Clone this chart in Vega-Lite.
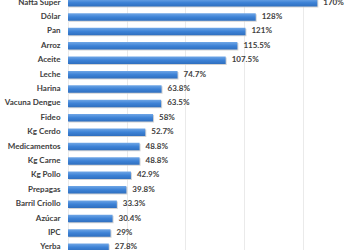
{
  "$schema": "https://vega.github.io/schema/vega-lite/v6.json",
  "autosize": "none",
  "width": 264,
  "height": 259,
  "padding": {"left": 68, "top": -4.5, "right": 18, "bottom": 0},
  "background": "white",
  "data": {"values": [
    {"item": "Nafta Super", "value": 170, "label": "170%"},
    {"item": "Dólar", "value": 128, "label": "128%"},
    {"item": "Pan", "value": 121, "label": "121%"},
    {"item": "Arroz", "value": 115.5, "label": "115.5%"},
    {"item": "Aceite", "value": 107.5, "label": "107.5%"},
    {"item": "Leche", "value": 74.7, "label": "74.7%"},
    {"item": "Harina", "value": 63.8, "label": "63.8%"},
    {"item": "Vacuna Dengue", "value": 63.5, "label": "63.5%"},
    {"item": "Fideo", "value": 58, "label": "58%"},
    {"item": "Kg Cerdo", "value": 52.7, "label": "52.7%"},
    {"item": "Medicamentos", "value": 48.8, "label": "48.8%"},
    {"item": "Kg Carne", "value": 48.8, "label": "48.8%"},
    {"item": "Kg Pollo", "value": 42.9, "label": "42.9%"},
    {"item": "Prepagas", "value": 39.8, "label": "39.8%"},
    {"item": "Barril Criollo", "value": 33.3, "label": "33.3%"},
    {"item": "Azúcar", "value": 30.4, "label": "30.4%"},
    {"item": "IPC", "value": 29, "label": "29%"},
    {"item": "Yerba", "value": 27.8, "label": "27.8%"}
  ]},
  "encoding": {
    "y": {"field": "item", "type": "nominal", "sort": null,
      "scale": {"paddingInner": 0.48, "paddingOuter": 0.24},
      "axis": {"title": null, "domain": false, "ticks": false, "labelPadding": 8,
        "labelFont": "Lato", "labelFontWeight": "bold", "labelFontSize": 8, "labelColor": "#404040"}},
    "x": {"field": "value", "type": "quantitative",
      "scale": {"domain": [0, 180], "nice": false},
      "axis": {"title": null, "labels": false, "ticks": false, "domain": false, "tickCount": 9,
        "values": [0, 20, 40, 60, 80, 100, 120, 140, 160, 180],
        "grid": true, "gridColor": "#e4e4e4", "gridWidth": 0.8}}
  },
  "layer": [
    {"mark": {"type": "bar", "yOffset": 1, "xOffset": 1, "color": "#c8c8c8", "opacity": 0.8}},
    {"mark": {"type": "bar",
      "fill": {"gradient": "linear", "x1": 0, "y1": 0, "x2": 0, "y2": 1,
        "stops": [{"offset": 0, "color": "#6fa6e6"}, {"offset": 0.5, "color": "#3d82d6"}, {"offset": 1, "color": "#2f6fbf"}]}}},
    {"mark": {"type": "text", "align": "left", "dx": 6, "font": "Lato", "fontWeight": "bold", "fontSize": 8, "color": "#404040"},
      "encoding": {"text": {"field": "label"}}}
  ],
  "config": {"view": {"stroke": null}}
}
